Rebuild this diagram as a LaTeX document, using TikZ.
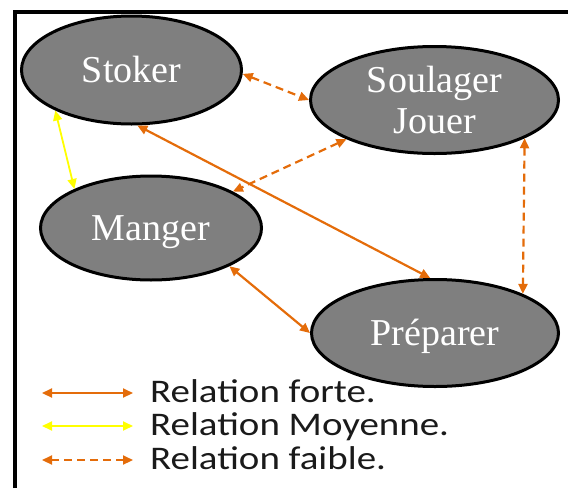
\documentclass[tikz,border=0pt]{standalone}
\usepackage{fontspec}
\setmainfont{Liberation Serif}
\newfontfamily\legfont[FakeStretch=1.18]{Carlito}
\usetikzlibrary{shapes.geometric, arrows.meta}
\definecolor{RelOrange}{HTML}{E46C0A}
\definecolor{RelYellow}{HTML}{FFFF00}
\definecolor{NodeGray}{HTML}{7F7F7F}
\definecolor{TextDark}{HTML}{1A1A1A}

\begin{document}
\begin{tikzpicture}[
    x=1pt, y=-1pt,
    act/.style={ellipse, draw=black, line width=3pt, fill=NodeGray, inner sep=0pt, align=center, text=white, font=\fontsize{38}{41}\selectfont},
    oneline/.style={text height=25pt, text depth=0pt},
    forte/.style={<->, >={Triangle[length=10pt,width=9pt]}, line width=2.2pt, RelOrange},
    moyenne/.style={forte, RelYellow, line width=1.8pt},
    faible/.style={forte, dash pattern=on 8pt off 5pt},
    leg/.style={anchor=base west, inner sep=0pt, font=\legfont\fontsize{33}{34}\selectfont, text=TextDark}
  ]
    \useasboundingbox (0,0) rectangle (568,488);
    \draw[line width=3.5pt] (15,488) -- (15,12) -- (568,12);

    \node[act, oneline, minimum width=220pt, minimum height=108pt] (stoker) at (131.5,70) {Stoker};
    \node[act, minimum width=248pt, minimum height=107pt] (soulager) at (434.5,100) {Soulager\\Jouer};
    \node[act, oneline, minimum width=221pt, minimum height=104pt] (manger) at (151,228) {Manger};
    \node[act, oneline, minimum width=247pt, minimum height=107pt] (preparer) at (435,333) {Préparer};

    \draw[faible] (stoker.-2) -- (soulager.180);
    \draw[moyenne] (stoker.208) -- (manger.153);
    \draw[faible] (soulager.204) -- (manger.24);
    \draw[forte] (stoker.-84) -- (preparer.95);
    \draw[faible] (soulager.-23.5) -- (preparer.24);
    \draw[forte] (manger.-26) -- (preparer.180);

    \coordinate (forteA) at (42,393);
    \coordinate (forteB) at (133,393);
    \coordinate (moyA) at (42,426);
    \coordinate (moyB) at (133,426);
    \coordinate (faibleA) at (42,460);
    \coordinate (faibleB) at (133,460);
    \draw[forte] (forteA) -- (forteB);
    \draw[moyenne] (moyA) -- (moyB);
    \draw[faible] (faibleA) -- (faibleB);
    \node[leg] (lforte) at (150,402) {Relation forte.};
    \node[leg] (lmoy) at (150,435) {Relation Moyenne.};
    \node[leg] (lfaible) at (150,469) {Relation faible.};
\end{tikzpicture}
\end{document}
